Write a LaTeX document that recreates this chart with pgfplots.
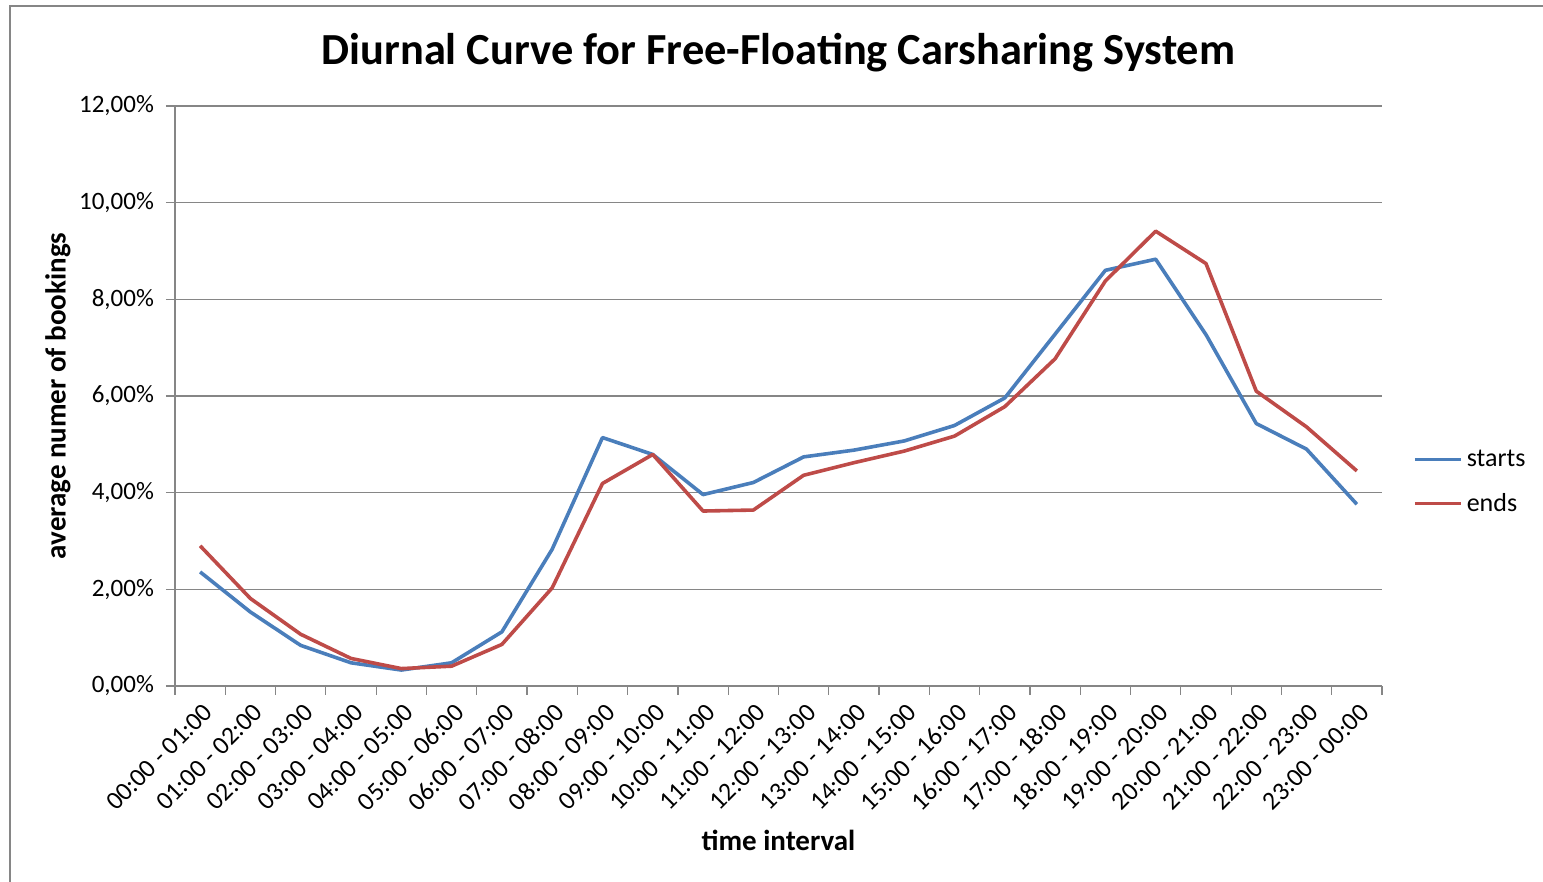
\documentclass[border=0pt]{standalone}
\usepackage{fontspec}
\setmainfont{Carlito}
\usepackage{pgfplots}
\pgfplotsset{compat=1.18}

\definecolor{startblue}{HTML}{4A7EBB}
\definecolor{endred}{HTML}{BE4B48}
\definecolor{gridgray}{HTML}{868686}

\begin{document}
\begin{tikzpicture}
\begin{axis}[
  at={(87.5pt,98pt)}, anchor=south west,
  scale only axis,
  width=603.5pt, height=290pt,
  xmin=-0.5, xmax=23.5,
  ymin=0, ymax=12,
  axis x line*=bottom, axis y line*=left,
  axis line style={gridgray, line width=0.6pt},
  every inner x axis line/.append style={-},
  every inner y axis line/.append style={-},
  xtick={0,...,23},
  xticklabels={00:00 - 01:00, 01:00 - 02:00, 02:00 - 03:00, 03:00 - 04:00,
    04:00 - 05:00, 05:00 - 06:00, 06:00 - 07:00, 07:00 - 08:00,
    08:00 - 09:00, 09:00 - 10:00, 10:00 - 11:00, 11:00 - 12:00,
    12:00 - 13:00, 13:00 - 14:00, 14:00 - 15:00, 15:00 - 16:00,
    16:00 - 17:00, 17:00 - 18:00, 18:00 - 19:00, 19:00 - 20:00,
    20:00 - 21:00, 21:00 - 22:00, 22:00 - 23:00, 23:00 - 00:00},
  major x tick style={draw=none},
  minor xtick={-0.5,0.5,...,23.5},
  minor x tick style={gridgray, line width=0.6pt},
  minor tick length=4.5pt,
  xticklabel style={rotate=45, anchor=east, font=\fontsize{12.9}{15}\selectfont, xshift=1.5pt, yshift=-7.5pt},
  ytick={0,2,...,12},
  yticklabels={{0,00\%},{2,00\%},{4,00\%},{6,00\%},{8,00\%},{10,00\%},{12,00\%}},
  yticklabel style={font=\fontsize{12.5}{14}\selectfont, xshift=-2.5pt},
  major y tick style={gridgray, line width=0.6pt},
  major tick length=4.5pt,
  tick align=outside,
  ymajorgrids,
  major grid style={gridgray, line width=0.6pt},
  xlabel={time interval},
  ylabel={average numer of bookings},
  xlabel style={at={(axis description cs:0.5,-0.267)}, anchor=center, font=\bfseries\fontsize{14.5}{17}\selectfont},
  ylabel style={at={(axis description cs:-0.097,0.5)}, anchor=center, rotate=0, font=\bfseries\fontsize{14.5}{17}\selectfont},
  title={Diurnal Curve for Free-Floating Carsharing System},
  title style={at={(axis description cs:0.5,1.072)}, anchor=center, font=\bfseries\fontsize{22.2}{26}\selectfont},
  legend style={at={(axis description cs:1.0255,0.352)}, anchor=west, draw=none, fill=none,
    font=\fontsize{13}{15}\selectfont, row sep=8pt, inner sep=0pt},
  legend cell align=left,
  legend image code/.code={\draw[#1, line width=1.8pt] (0pt,0pt) -- (23pt,0pt);},
  clip=false,
]
% share of bookings starting in each hour
\addplot[startblue, line width=1.8pt, line join=round] coordinates {
  (0,2.36) (1,1.53) (2,0.84) (3,0.48) (4,0.33) (5,0.48) (6,1.12) (7,2.83)
  (8,5.14) (9,4.79) (10,3.96) (11,4.21) (12,4.74) (13,4.88) (14,5.07) (15,5.39)
  (16,5.96) (17,7.28) (18,8.60) (19,8.83) (20,7.27) (21,5.43) (22,4.90) (23,3.76)
};
\addlegendentry{starts}
% share of bookings ending in each hour
\addplot[endred, line width=1.8pt, line join=round] coordinates {
  (0,2.90) (1,1.81) (2,1.07) (3,0.57) (4,0.36) (5,0.41) (6,0.86) (7,2.03)
  (8,4.19) (9,4.79) (10,3.62) (11,3.64) (12,4.36) (13,4.62) (14,4.86) (15,5.17)
  (16,5.78) (17,6.77) (18,8.38) (19,9.41) (20,8.74) (21,6.10) (22,5.36) (23,4.45)
};
\addlegendentry{ends}
\end{axis}
% chart frame
\draw[gridgray, line width=1pt] (5pt,-20pt) -- (5pt,438pt) -- (800pt,438pt);
\pgfresetboundingbox
\path[use as bounding box] (0,0) rectangle (771.5pt,441pt);
\end{tikzpicture}
\end{document}
